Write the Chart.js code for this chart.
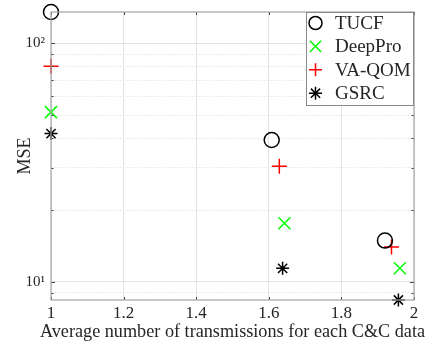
<!DOCTYPE html>
<html>
<head>
<meta charset="utf-8">
<script src="https://cdn.jsdelivr.net/npm/chart.js@4/dist/chart.umd.min.js"></script>
<style>
  html, body { margin: 0; padding: 0; background: #fff; }
  #wrap { width: 432px; height: 347px; position: relative; }
</style>
</head>
<body>
<div id="wrap"><canvas id="c"></canvas></div>
<script>
// ---- data ----
const seriesNames = ['TUCF', 'DeepPro', 'VA-QOM', 'GSRC'];
const xTUCF    = [1, 1.608, 1.920];
const yTUCF    = [135, 39.3, 14.9];
const xDeepPro = [1, 1.643, 1.961];
const yDeepPro = [51.4, 17.6, 11.4];
const xVAQOM   = [1, 1.629, 1.938];
const yVAQOM   = [80, 30.5, 14.0];
const xGSRC    = [1, 1.638, 1.957];
const yGSRC    = [41.8, 11.4, 8.4];
const xTicks   = [1, 1.2, 1.4, 1.6, 1.8, 2];
const yMajorTicks = [10, 100];
const yMinorTicks = [9, 20, 30, 40, 50, 60, 70, 80, 90];
const yLabels  = { 10: '10\u00B9', 100: '10\u00B2' };
const xTitle   = 'Average number of transmissions for each C&C data';
const yTitle   = 'MSE';

const SERIF = '"Liberation Serif", "Times New Roman", serif';

function pts(xs, ys) { return xs.map((x, i) => ({ x: x, y: ys[i] })); }

const styles = [
  { pointStyle: 'circle',   color: '#000000', radius: 7.5 },
  { pointStyle: 'crossRot', color: '#00ff00', radius: 8.5 },
  { pointStyle: 'cross',    color: '#ff0000', radius: 7.5 },
  { pointStyle: 'star',     color: '#000000', radius: 6.5 }
];
const allData = [pts(xTUCF, yTUCF), pts(xDeepPro, yDeepPro), pts(xVAQOM, yVAQOM), pts(xGSRC, yGSRC)];

const datasets = seriesNames.map((name, i) => ({
  label: name,
  data: allData[i],
  showLine: false,
  pointStyle: styles[i].pointStyle,
  pointRadius: styles[i].radius,
  pointHoverRadius: styles[i].radius,
  pointBorderColor: styles[i].color,
  pointBackgroundColor: 'rgba(0,0,0,0)',
  pointBorderWidth: 1.5,
  borderColor: styles[i].color,
  backgroundColor: 'rgba(0,0,0,0)',
  clip: false
}));

const boxPlugin = {
  id: 'boxPlugin',
  afterDatasetsDraw(chart) {
    const ctx = chart.ctx;
    const a = chart.chartArea;
    const xs = chart.scales.x, ys = chart.scales.y;
    ctx.save();
    // inward tick marks on all four sides
    ctx.strokeStyle = '#404040';
    ctx.lineWidth = 1;
    ctx.beginPath();
    xTicks.forEach(v => {
      const px = Math.round(xs.getPixelForValue(v)) + 0.5;
      ctx.moveTo(px, a.bottom); ctx.lineTo(px, a.bottom - 3);
      ctx.moveTo(px, a.top); ctx.lineTo(px, a.top + 3);
    });
    yMajorTicks.concat(yMinorTicks).forEach(v => {
      const py = Math.round(ys.getPixelForValue(v)) + 0.5;
      const len = yMajorTicks.includes(v) ? 4 : 2.5;
      ctx.moveTo(a.left, py); ctx.lineTo(a.left + len, py);
      ctx.moveTo(a.right, py); ctx.lineTo(a.right - len, py);
    });
    ctx.stroke();
    // axes box
    ctx.strokeStyle = '#a6a6a6';
    ctx.lineWidth = 1.2;
    ctx.strokeRect(a.left, a.top, a.right - a.left, a.bottom - a.top);
    ctx.restore();
  },
  afterDraw(chart) {
    const ctx = chart.ctx;
    const a = chart.chartArea;
    ctx.save();
    // x axis title (drawn without the width squeeze of the built-in title)
    ctx.fillStyle = '#262626';
    ctx.font = '18.2px ' + SERIF;
    ctx.textAlign = 'center';
    ctx.textBaseline = 'alphabetic';
    ctx.fillText(xTitle, (a.left + a.right) / 2, chart.height - 10);

    // legend in the upper right corner of the axes
    const w = 108, h = 94;
    const x0 = a.right - w, y0 = a.top;
    ctx.fillStyle = '#ffffff';
    ctx.fillRect(x0, y0, w, h);
    ctx.strokeStyle = '#8a8a8a';
    ctx.lineWidth = 1;
    ctx.strokeRect(x0 + 0.5, y0 + 0.5, w - 1, h - 1);
    chart.data.datasets.forEach((ds, i) => {
      const cy = y0 + 11 + i * 23.4;
      const cx = x0 + 9.5;
      ctx.strokeStyle = ds.pointBorderColor;
      ctx.fillStyle = 'rgba(0,0,0,0)';
      ctx.lineWidth = 1.5;
      Chart.helpers.drawPoint(ctx, {
        pointStyle: ds.pointStyle,
        radius: ds.pointStyle === 'circle' ? 6.5 : (ds.pointStyle === 'crossRot' ? 8 : 6.5),
        rotation: 0,
        borderWidth: 1.5
      }, cx, cy);
      ctx.fillStyle = '#262626';
      ctx.font = '19px ' + SERIF;
      ctx.textBaseline = 'middle';
      ctx.textAlign = 'left';
      ctx.fillText(ds.label, x0 + 29, cy + 1);
    });
    ctx.restore();
  }
};

new Chart(document.getElementById('c'), {
  type: 'scatter',
  data: { datasets: datasets },
  options: {
    responsive: true,
    maintainAspectRatio: false,
    animation: false,
    events: [],
    layout: { padding: { left: 0, top: 12, right: 18, bottom: 0 } },
    plugins: { legend: { display: false }, tooltip: { enabled: false } },
    scales: {
      x: {
        type: 'linear',
        min: 1, max: 2,
        afterBuildTicks(scale) { scale.ticks = xTicks.map(v => ({ value: v })); },
        afterFit(scale) { scale.height = 47; scale.paddingLeft = 0; scale.paddingRight = 0; },
        ticks: {
          autoSkip: false,
          maxRotation: 0,
          padding: 3,
          color: '#262626',
          font: { family: SERIF, size: 17 },
          callback: v => String(Math.round(v * 10) / 10)
        },
        grid: { color: '#e3e3e3', lineWidth: 1, drawTicks: false },
        border: { display: false },
        title: { display: false }
      },
      y: {
        type: 'logarithmic',
        min: 8.4, max: 135,
        afterBuildTicks(scale) {
          scale.ticks = yMinorTicks.concat(yMajorTicks).sort((p, q) => p - q).map(v => ({ value: v, major: yMajorTicks.includes(v) }));
        },
        afterFit(scale) { scale.width = 51; scale.paddingTop = 0; scale.paddingBottom = 0; },
        ticks: {
          autoSkip: false,
          padding: 6,
          color: '#262626',
          font: { family: SERIF, size: 15 },
          callback: v => yLabels[v] || ''
        },
        grid: {
          color: ctx => (ctx.tick && yMajorTicks.includes(ctx.tick.value)) ? '#e3e3e3' : '#e6e6e6',
          lineWidth: 1,
          drawTicks: false
        },
        border: {
          display: false,
          dash: ctx => (ctx.tick && yMajorTicks.includes(ctx.tick.value)) ? [] : [1.5, 1.5]
        },
        title: {
          display: true,
          text: yTitle,
          color: '#262626',
          font: { family: SERIF, size: 18 },
          padding: { top: 14, bottom: 0 }
        }
      }
    }
  },
  plugins: [boxPlugin]
});
</script>
</body>
</html>
